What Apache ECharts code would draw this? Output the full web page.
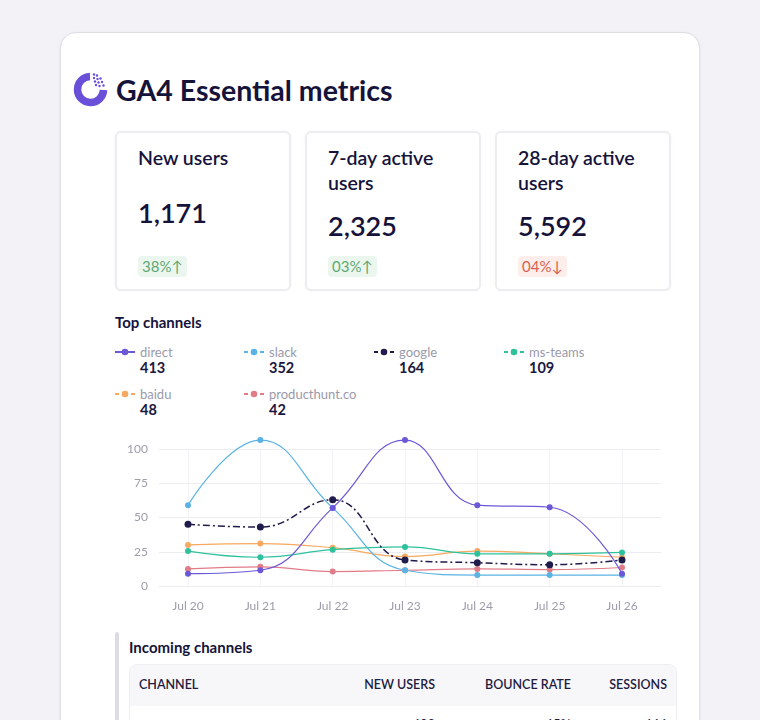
<!DOCTYPE html>
<html>
<head>
<meta charset="utf-8">
<script src="https://cdn.jsdelivr.net/npm/echarts@6/dist/echarts.min.js"></script>
<style>
  html, body { margin: 0; padding: 0; }
  body { width: 760px; height: 720px; background: #f2f2f7; font-family: Lato, "Noto Sans", sans-serif; position: relative; overflow: hidden; color: #16133b; }
  .abs { position: absolute; }
  #card { left: 60px; top: 32px; width: 638px; height: 720px; background: #fff; border: 1.5px solid #dedee6; border-radius: 16px; box-shadow: 0 1px 4px rgba(30,30,60,0.05); }
  #title { left: 116px; top: 71px; font-size: 28.5px; font-weight: 700; line-height: 38px; white-space: nowrap; }
  .kpi { top: 131px; width: 172px; height: 156px; border: 2px solid #ededf1; border-radius: 6px; background: #fff; box-shadow: 0 0 3px rgba(0,0,0,0.04); }
  .kpi .t { position: absolute; left: 21px; top: 12px; font-size: 19.5px; font-weight: 600; line-height: 25px; width: 145px; }
  .kpi .v { position: absolute; left: 21px; font-size: 27px; font-weight: 600; line-height: 32px; }
  .kpi .b { position: absolute; left: 21px; top: 123px; height: 21px; line-height: 21px; padding: 0 4px; font-size: 15px; border-radius: 4px; }
  .up { background: #ebf7ee; color: #5fa874; }
  .down { background: #fdeeec; color: #d9604e; }
  #topch { left: 115px; top: 312px; font-size: 15px; font-weight: 700; line-height: 20px; }
  .lg { position: absolute; }
  .lg .n { position: absolute; left: 25px; top: -9px; font-size: 13px; color: #9a9aa9; line-height: 18px; white-space: nowrap; }
  .lg .c { position: absolute; left: 25px; top: 7px; font-size: 14.5px; font-weight: 700; color: #1b1840; line-height: 18px; }
  .lg svg { position: absolute; left: 0; top: -4px; }
  #bar { left: 115px; top: 632px; width: 4px; height: 100px; background: #dcdce4; border-radius: 2px; }
  #incoming { left: 129px; top: 637px; font-size: 15px; font-weight: 700; line-height: 20px; }
  #table { left: 129px; top: 664px; width: 546px; height: 80px; border: 1px solid #efeff3; border-radius: 8px; background: #fff; overflow: hidden; }
  #thead { position: absolute; left: 0; top: 0; width: 546px; height: 41px; background: #f7f7fa; }
  .th { position: absolute; top: 11px; font-size: 12.5px; font-weight: 600; color: #1f1c40; line-height: 18px; white-space: nowrap; }
  .td { position: absolute; top: 50px; font-size: 13px; color: #1f1c40; line-height: 18px; }
  #chart { position: absolute; left: 0; top: 0; width: 760px; height: 720px; }
</style>
</head>
<body>
<div id="card" class="abs"></div>
<svg class="abs" style="left:73px;top:72px" width="36" height="36" viewBox="0 0 36 36">
  <path d="M17 4.5 A13 13 0 1 0 30.5 18" fill="none" stroke="#6a4fd9" stroke-width="7.5"/>
  <g fill="#6a4fd9">
    <circle cx="21" cy="2.5" r="1.2"/><circle cx="24" cy="3.5" r="1.2"/>
    <circle cx="21" cy="6" r="1.2"/><circle cx="24.5" cy="7" r="1.2"/><circle cx="27.5" cy="6.5" r="1.2"/>
    <circle cx="22" cy="9.5" r="1.2"/><circle cx="25.5" cy="10.5" r="1.2"/><circle cx="29" cy="10" r="1.2"/>
    <circle cx="23" cy="13" r="1.2"/><circle cx="26.5" cy="14" r="1.2"/><circle cx="30.5" cy="13.5" r="1.2"/>
  </g>
</svg>
<div id="title" class="abs">GA4 Essential metrics</div>
<div id="kpis"></div>
<div id="topch" class="abs">Top channels</div>
<div id="legend"></div>
<div id="bar" class="abs"></div>
<div id="incoming" class="abs">Incoming channels</div>
<div id="table" class="abs"><div id="thead"></div></div>
<div id="chart"></div>
<script>
// ---- data ----
const kpiTitles = ['New users', '7-day active users', '28-day active users'];
const kpiValues = ['1,171', '2,325', '5,592'];
const kpiChanges = ['38%\u2191', '03%\u2191', '04%\u2193'];
const kpiDirections = ['up', 'up', 'down'];

const days = ['Jul 20', 'Jul 21', 'Jul 22', 'Jul 23', 'Jul 24', 'Jul 25', 'Jul 26'];
const channelNames = ['direct', 'slack', 'google', 'ms-teams', 'baidu', 'producthunt.co'];
const channelTotals = [413, 352, 164, 109, 48, 42];
const direct = [9, 11.5, 57, 106.5, 59, 57.5, 9];
const slack = [59, 106.5, 57, 11.5, 8, 8, 8];
const google = [45, 43, 63, 19, 17, 15.5, 19];
const msTeams = [25.5, 21, 26.5, 28.5, 23.5, 23.5, 24.5];
const baidu = [30, 31, 28, 21.5, 25.5, 23.5, 21];
const producthunt = [12.5, 14, 10.5, 11.5, 12.5, 12, 13.5];
const yMin = 0, yMax = 100, yStep = 25;

const tableHeaders = ['CHANNEL', 'NEW USERS', 'BOUNCE RATE', 'SESSIONS'];
const tableRow = ['', '402', '65%', '666'];

// ---- styles ----
const colors = ['#6b58d8', '#5ab3e3', '#1f1b4a', '#2ec29c', '#f6a95f', '#e07b87'];
const series = [direct, slack, google, msTeams, baidu, producthunt];

// KPI cards
const kpiLeft = [115, 305, 495];
const kpiValueTop = [64, 77, 77];
const kpis = document.getElementById('kpis');
kpiTitles.forEach((t, i) => {
  const d = document.createElement('div');
  d.className = 'kpi abs';
  d.style.left = kpiLeft[i] + 'px';
  d.innerHTML = '<div class="t">' + t + '</div><div class="v" style="top:' + kpiValueTop[i] + 'px">' + kpiValues[i] +
    '</div><div class="b ' + kpiDirections[i] + '">' + kpiChanges[i] + '</div>';
  kpis.appendChild(d);
});

// Legend
const lgX = [115, 244, 374, 504];
const lgY = [352, 394];
const legend = document.getElementById('legend');
channelNames.forEach((n, i) => {
  const d = document.createElement('div');
  d.className = 'lg';
  d.style.left = lgX[i % 4] + 'px';
  d.style.top = lgY[Math.floor(i / 4)] + 'px';
  const c = colors[i];
  let line;
  if (i === 0) line = '<line x1="0" y1="4" x2="20" y2="4" stroke="' + c + '" stroke-width="2"/>';
  else line = '<line x1="0" y1="4" x2="4" y2="4" stroke="' + c + '" stroke-width="2"/><line x1="16" y1="4" x2="20" y2="4" stroke="' + c + '" stroke-width="2"/>';
  d.innerHTML = '<svg width="20" height="8">' + line + '<circle cx="10" cy="4" r="3.3" fill="' + c + '"/></svg>' +
    '<div class="n">' + n + '</div><div class="c">' + channelTotals[i] + '</div>';
  legend.appendChild(d);
});

// Table
const thead = document.getElementById('thead');
const table = document.getElementById('table');
const colRight = [null, 305, 441, 537];
tableHeaders.forEach((h, i) => {
  const d = document.createElement('div');
  d.className = 'th';
  d.textContent = h;
  if (i === 0) d.style.left = '9px'; else { d.style.right = (546 - colRight[i]) + 'px'; }
  thead.appendChild(d);
  if (tableRow[i]) {
    const r = document.createElement('div');
    r.className = 'td';
    r.textContent = tableRow[i];
    r.style.right = (546 - colRight[i]) + 'px';
    table.appendChild(r);
  }
});

// Chart
const chart = echarts.init(document.getElementById('chart'), null, { renderer: 'canvas' });
const axisLabelStyle = { color: '#9d9dab', fontSize: 12, fontFamily: 'Lato' };
chart.setOption({
  animation: false,
  grid: [
    { left: 188, right: 138, top: 449, bottom: 134 },
    { left: 159, right: 99, top: 449, bottom: 134 }
  ],
  xAxis: [
    { type: 'category', gridIndex: 0, data: days, boundaryGap: false,
      axisLine: { show: false }, axisTick: { show: false },
      axisLabel: Object.assign({ margin: 14 }, axisLabelStyle),
      splitLine: { show: true, lineStyle: { color: '#f2f2f6', width: 1 } } },
    { type: 'value', gridIndex: 1, show: false, min: 0, max: 1 }
  ],
  yAxis: [
    { type: 'value', gridIndex: 0, min: yMin, max: yMax, interval: yStep, show: false },
    { type: 'value', gridIndex: 1, min: yMin, max: yMax, interval: yStep,
      axisLine: { show: false }, axisTick: { show: false },
      axisLabel: Object.assign({ margin: 11 }, axisLabelStyle),
      splitLine: { show: true, lineStyle: { color: '#ececf1', width: 1 } } }
  ],
  series: series.map((d, i) => ({
    name: channelNames[i],
    type: 'line',
    xAxisIndex: 0, yAxisIndex: 0,
    data: d,
    smooth: 0.45,
    clip: false,
    symbol: 'circle',
    symbolSize: i === 2 ? 7 : 6,
    z: 10 - i,
    itemStyle: { color: colors[i] },
    lineStyle: { color: colors[i], width: i === 2 ? 1.5 : 1.2, type: i === 2 ? [7, 3, 2, 3] : 'solid' }
  }))
});
</script>
</body>
</html>
